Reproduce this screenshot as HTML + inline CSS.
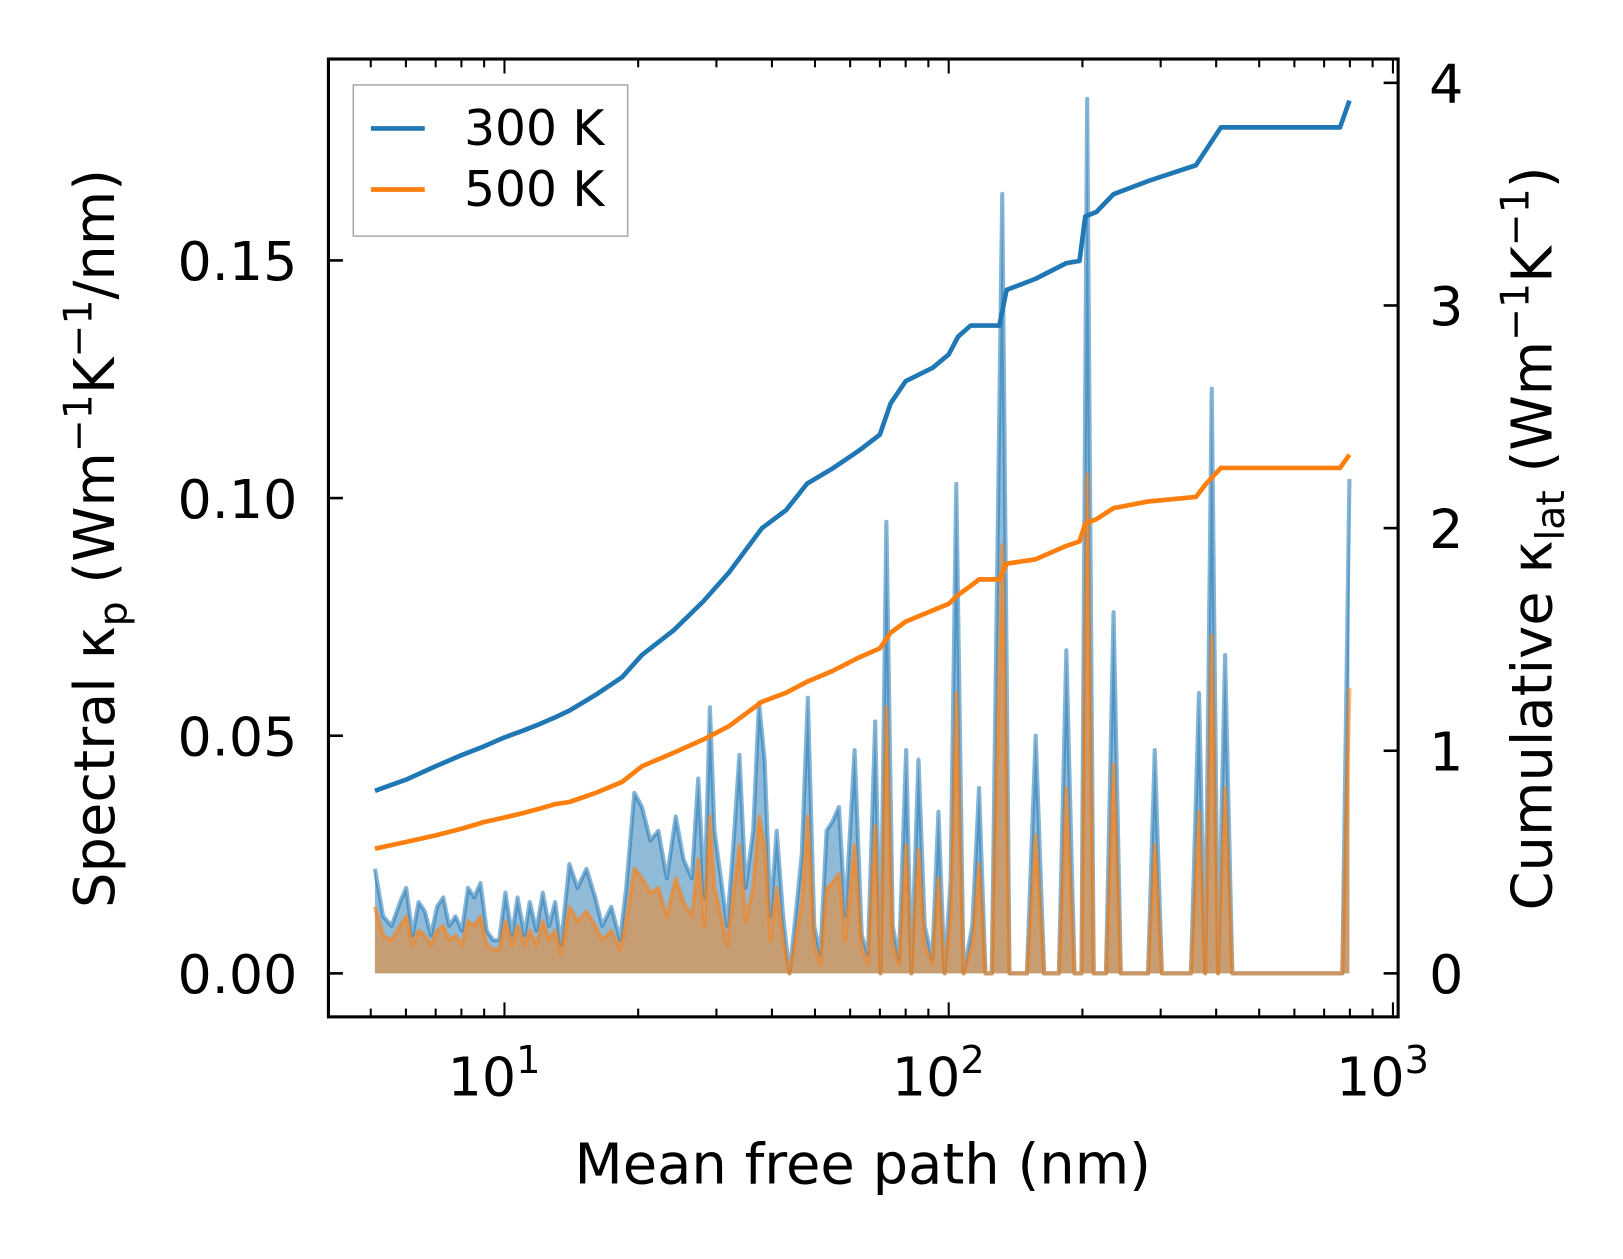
<!DOCTYPE html>
<html><head><meta charset="utf-8"><style>
body{margin:0;background:#fff;overflow:hidden}
svg text{font-family:"DejaVu Sans","Liberation Sans",sans-serif;fill:#000}
</style></head><body>
<svg id="chart" width="1623" height="1254" viewBox="0 0 1567 1211" xmlns="http://www.w3.org/2000/svg">
<g id="marks"></g>
<g id="axes"></g>
<text x="833" y="1143" text-anchor="middle" font-size="54">Mean free path (nm)</text>
<text transform="translate(110,520) rotate(-90)" text-anchor="middle" font-size="54">Spectral κ<tspan font-size="38" dy="12">p</tspan><tspan dy="-12"> (Wm</tspan><tspan font-size="38" dy="-22">−1</tspan><tspan dy="22">K</tspan><tspan font-size="38" dy="-22">−1</tspan><tspan dy="22">/nm)</tspan></text>
<text transform="translate(1498,520) rotate(-90)" text-anchor="middle" font-size="54">Cumulative κ<tspan font-size="38" dy="12">lat</tspan><tspan dy="-12"> (Wm</tspan><tspan font-size="38" dy="-22">−1</tspan><tspan dy="22">K</tspan><tspan font-size="38" dy="-22">−1</tspan><tspan dy="22">)</tspan></text>
<g>
<rect x="341" y="82" width="265" height="146" fill="#fff" fill-opacity="0.8" stroke="#aaa" stroke-width="1.5"/>
<line x1="358" x2="410" y1="124" y2="124" stroke="#1f77b4" stroke-width="4.5"/>
<text x="448" y="140" font-size="47">300 K</text>
<line x1="358" x2="410" y1="183" y2="183" stroke="#ff7f0e" stroke-width="4.5"/>
<text x="448" y="199" font-size="47">500 K</text>
</g>
</svg>
<script>
const mfp=[5.11,5.33,5.57,5.82,6.01,6.21,6.41,6.62,6.83,7.05,7.28,7.51,7.76,8.02,8.28,8.55,8.83,9.12,9.43,9.73,10.05,10.4,10.7,11.1,11.4,11.8,12.2,12.6,13.0,13.4,14.0,14.6,15.3,16.0,16.6,17.4,18.2,18.8,19.6,20.4,21.3,22.2,23.2,24.3,25.3,26.4,27.3,28.2,29.0,29.7,30.7,31.7,32.7,33.8,34.9,36.3,37.4,38.5,39.7,41.0,42.4,43.8,45.2,46.7,48.2,49.8,51.4,53.1,54.8,56.6,58.5,61.4,63.7,65.8,68.3,70.2,72.4,74.8,77.3,80.2,82.4,85.5,88.3,91.8,94.8,97.9,101,104,108,113,117,121,125,132,137,150,157,164,177,184,192,199,205,212,226,235,244,281,291,302,351,366,378,391,404,419,435,769,798];
const spec300=[0.022,0.012,0.010,0.015,0.018,0.008,0.015,0.013,0.008,0.014,0.016,0.010,0.012,0.009,0.018,0.016,0.019,0.009,0.007,0.007,0.017,0.008,0.016,0.008,0.015,0.009,0.017,0.010,0.015,0.006,0.023,0.018,0.022,0.016,0.010,0.014,0.007,0.018,0.038,0.035,0.028,0.030,0.020,0.033,0.024,0.020,0.041,0.016,0.056,0.030,0.020,0.010,0.026,0.046,0.018,0.030,0.057,0.045,0.012,0.030,0.012,0.000,0.012,0.025,0.058,0.010,0.004,0.030,0.032,0.035,0.012,0.047,0.008,0.004,0.053,0.000,0.095,0.010,0.003,0.047,0.000,0.045,0.010,0.003,0.034,0.000,0.020,0.103,0.000,0.010,0.039,0.000,0.000,0.164,0.000,0.000,0.050,0.000,0.000,0.068,0.000,0.000,0.184,0.000,0.000,0.076,0.000,0.000,0.047,0.000,0.000,0.059,0.000,0.123,0.000,0.067,0.000,0.000,0.104];
const spec500=[0.014,0.008,0.007,0.010,0.012,0.006,0.009,0.008,0.006,0.009,0.010,0.007,0.008,0.006,0.011,0.010,0.012,0.006,0.005,0.005,0.011,0.006,0.010,0.006,0.009,0.006,0.011,0.007,0.009,0.004,0.014,0.011,0.013,0.010,0.007,0.009,0.005,0.011,0.022,0.020,0.017,0.018,0.012,0.020,0.015,0.012,0.024,0.010,0.033,0.018,0.012,0.006,0.016,0.027,0.011,0.018,0.033,0.027,0.007,0.018,0.007,0.000,0.007,0.015,0.033,0.006,0.002,0.018,0.019,0.021,0.007,0.027,0.005,0.002,0.031,0.000,0.056,0.006,0.002,0.027,0.000,0.026,0.006,0.002,0.020,0.000,0.012,0.059,0.000,0.006,0.023,0.000,0.000,0.090,0.000,0.000,0.029,0.000,0.000,0.039,0.000,0.000,0.105,0.000,0.000,0.044,0.000,0.000,0.027,0.000,0.000,0.034,0.000,0.071,0.000,0.039,0.000,0.000,0.060];
const cumX=[5.11,6,7,8,9,10,11,12,13,14,16,18.4,20.4,24,28,32,38,43,48,55,63,70,74,80,92,100,105,112,117,130,135,157,184,197,203,215,235,282,360,380,410,760,798];
const cum300=[0.82,0.87,0.93,0.98,1.02,1.06,1.09,1.12,1.15,1.18,1.25,1.33,1.43,1.54,1.67,1.80,2.0,2.08,2.2,2.27,2.35,2.42,2.56,2.66,2.72,2.78,2.86,2.91,2.91,2.91,3.07,3.12,3.19,3.2,3.4,3.42,3.5,3.56,3.63,3.7,3.8,3.8,3.92];
const cum500=[0.56,0.59,0.62,0.65,0.68,0.70,0.72,0.74,0.76,0.77,0.81,0.86,0.93,0.99,1.05,1.11,1.22,1.26,1.31,1.36,1.42,1.46,1.53,1.58,1.63,1.66,1.70,1.74,1.77,1.77,1.84,1.86,1.92,1.94,2.02,2.04,2.09,2.12,2.14,2.20,2.27,2.27,2.33];
const leftTicks=[0,0.05,0.10,0.15];
const leftLabels=["0.00","0.05","0.10","0.15"];
const rightTicks=[0,1,2,3,4];
const xDecades=[1,2,3];

const L=317,R=1350,T=57,B=982;
const X=v=>487+(Math.log10(v)-1)*429;
const YL=v=>940-v*4590;
const YR=v=>940-v*215;
const NS="http://www.w3.org/2000/svg";
function mk(p,tag,at){const e=document.createElementNS(NS,tag);for(const k in at)e.setAttribute(k,at[k]);p.appendChild(e);return e;}
const marks=document.getElementById('marks'),axes=document.getElementById('axes');

function area(vals,color,name){
  let d='M'+X(mfp[0])+','+YL(0);
  mfp.forEach((m,i)=>d+=' L'+X(m).toFixed(1)+','+YL(vals[i]).toFixed(1));
  d+=' L'+X(mfp[mfp.length-1])+','+YL(0)+' Z';
  const a=mk(marks,'path',{d:d,fill:color,'fill-opacity':0.5,stroke:'none'});
  
  
  const pts=mfp.map((m,i)=>X(m).toFixed(1)+','+YL(vals[i]).toFixed(1)).join(' ');
  const l=mk(marks,'polyline',{points:pts,fill:'none',stroke:color,'stroke-opacity':0.55,'stroke-width':4,'stroke-linejoin':'round'});
  
  
}
area(spec300,'#1f77b4','spectral-300k');
area(spec500,'#ff7f0e','spectral-500k');
function cum(vals,color,name){
  const pts=cumX.map((m,i)=>X(m).toFixed(1)+','+YR(vals[i]).toFixed(1)).join(' ');
  const l=mk(marks,'polyline',{points:pts,fill:'none',stroke:color,'stroke-width':4.5,'stroke-linejoin':'round'});
  
  
}
cum(cum300,'#1f77b4','cumulative-300k');
cum(cum500,'#ff7f0e','cumulative-500k');

const frame=mk(axes,'rect',{x:L,y:T,width:R-L,height:B-T,fill:'none',stroke:'#000','stroke-width':3});


leftTicks.forEach((v,i)=>{
  mk(axes,'line',{x1:L,x2:L+14,y1:YL(v),y2:YL(v),stroke:'#000','stroke-width':2.5});
  const t=mk(axes,'text',{x:L-30,y:YL(v)+19,'text-anchor':'end','font-size':52});
  t.textContent=leftLabels[i];
  
  
});
rightTicks.forEach(v=>{
  mk(axes,'line',{x1:R-14,x2:R,y1:YR(v),y2:YR(v),stroke:'#000','stroke-width':2.5});
  const t=mk(axes,'text',{x:R+30,y:YR(v)+19,'font-size':52});
  t.textContent=v;
  
  
});
for(let dec=0;dec<=3;dec++){for(let k=1;k<=9;k++){
  const v=k*Math.pow(10,dec);const x=X(v);if(x<L||x>R)continue;
  const len=k===1?14:8;
  mk(axes,'line',{x1:x,x2:x,y1:B,y2:B-len,stroke:'#000','stroke-width':2});
  mk(axes,'line',{x1:x,x2:x,y1:T,y2:T+len,stroke:'#000','stroke-width':2});
}}
xDecades.forEach(p=>{
  const t=mk(axes,'text',{x:X(Math.pow(10,p))-10,y:1058,'text-anchor':'middle','font-size':52});
  t.innerHTML='10<tspan dy="-22" font-size="37">'+p+'</tspan>';
  
  
});
</script>
</body></html>
